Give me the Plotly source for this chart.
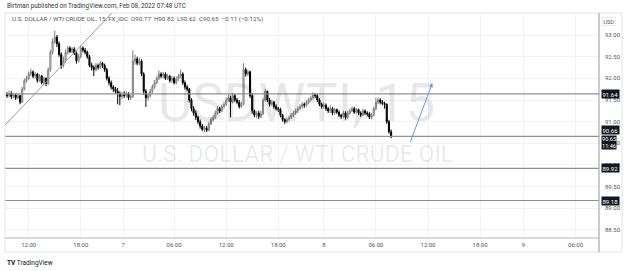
import plotly.graph_objects as go

# ---------------- data ----------------
closes = [91.60, 91.65, 91.58, 91.62, 91.55, 91.60, 91.45, 91.75, 91.95, 92.00,
          92.10, 92.15, 92.05, 92.10, 91.95, 92.05, 91.90, 92.00, 91.88, 92.20,
          92.60, 92.85, 92.95, 92.80, 92.55, 92.30, 92.40, 92.60, 92.70, 92.62,
          92.68, 92.58, 92.40, 92.50, 92.70, 92.65, 92.60, 92.50, 92.30, 92.25,
          92.20, 92.30, 92.25, 92.35, 92.30, 92.20, 92.00, 91.90, 91.80, 91.75,
          91.70, 91.65, 91.58, 91.62, 91.60, 91.65, 91.55, 91.58, 92.40, 92.45,
          92.35, 92.40, 92.10, 91.70, 91.55, 91.60, 91.70, 91.80, 91.90, 92.00,
          92.10, 92.05, 92.10, 92.00, 92.05, 91.95, 92.00, 91.90, 91.98, 92.05,
          92.10, 91.90, 91.80, 91.75, 91.50, 91.30, 91.20, 91.10, 91.00, 90.90,
          90.82, 90.85, 90.80, 90.95, 91.05, 91.10, 91.20, 91.30, 91.25, 91.35,
          91.40, 91.50, 91.55, 91.45, 91.60, 91.50, 91.45, 91.35, 91.40, 92.20,
          92.10, 92.15, 91.60, 91.25, 91.15, 91.20, 91.12, 91.18, 91.50, 91.70,
          91.50, 91.40, 91.45, 91.35, 91.30, 91.28, 91.15, 91.05, 91.00, 91.05,
          91.10, 91.15, 91.20, 91.25, 91.30, 91.35, 91.40, 91.38, 91.45, 91.50,
          91.55, 91.62, 91.60, 91.50, 91.40, 91.35, 91.38, 91.30, 91.25, 91.30,
          91.20, 91.28, 91.22, 91.15, 91.12, 91.20, 91.10, 91.20, 91.25, 91.30,
          91.22, 91.28, 91.20, 91.15, 91.25, 91.20, 91.18, 91.10, 91.15, 91.30,
          91.45, 91.50, 91.45, 91.42, 91.40, 91.00, 90.77, 90.65]

opens = [91.62, 91.60, 91.65, 91.58, 91.62, 91.55, 91.60, 91.45, 91.75, 91.95,
         92.00, 92.10, 92.15, 92.05, 92.10, 91.95, 92.05, 91.90, 92.00, 91.88,
         92.20, 92.60, 92.85, 92.95, 92.80, 92.55, 92.30, 92.40, 92.60, 92.70,
         92.62, 92.68, 92.58, 92.40, 92.50, 92.70, 92.65, 92.60, 92.50, 92.30,
         92.25, 92.20, 92.30, 92.25, 92.35, 92.30, 92.20, 92.00, 91.90, 91.80,
         91.75, 91.70, 91.65, 91.58, 91.62, 91.60, 91.65, 91.55, 91.58, 92.40,
         92.45, 92.35, 92.40, 92.10, 91.70, 91.55, 91.60, 91.70, 91.80, 91.90,
         92.00, 92.10, 92.05, 92.10, 92.00, 92.05, 91.95, 92.00, 91.90, 91.98,
         92.05, 92.10, 91.90, 91.80, 91.75, 91.50, 91.30, 91.20, 91.10, 91.00,
         90.90, 90.82, 90.85, 90.80, 90.95, 91.05, 91.10, 91.20, 91.30, 91.25,
         91.35, 91.40, 91.50, 91.55, 91.45, 91.60, 91.50, 91.45, 91.35, 91.40,
         92.20, 92.10, 92.15, 91.60, 91.25, 91.15, 91.20, 91.12, 91.18, 91.50,
         91.70, 91.50, 91.40, 91.45, 91.35, 91.30, 91.28, 91.15, 91.05, 91.00,
         91.05, 91.10, 91.15, 91.20, 91.25, 91.30, 91.35, 91.40, 91.38, 91.45,
         91.50, 91.55, 91.62, 91.60, 91.50, 91.40, 91.35, 91.38, 91.30, 91.25,
         91.30, 91.20, 91.28, 91.22, 91.15, 91.12, 91.20, 91.10, 91.20, 91.25,
         91.30, 91.22, 91.28, 91.20, 91.15, 91.25, 91.20, 91.18, 91.10, 91.15,
         91.30, 91.45, 91.50, 91.45, 91.42, 91.40, 91.00, 90.77]

highs = [91.68, 91.72, 91.70, 91.66, 91.65, 91.64, 91.62, 91.80, 92.00, 92.06,
         92.16, 92.22, 92.18, 92.14, 92.12, 92.10, 92.08, 92.04, 92.02, 92.25,
         92.66, 92.92, 93.10, 93.00, 92.85, 92.60, 92.50, 92.66, 92.75, 92.74,
         92.72, 92.72, 92.62, 92.56, 92.76, 92.74, 92.70, 92.64, 92.54, 92.36,
         92.30, 92.36, 92.34, 92.40, 92.38, 92.34, 92.24, 92.05, 91.95, 91.84,
         91.80, 91.78, 91.70, 91.68, 91.70, 91.70, 91.68, 91.62, 92.65, 92.55,
         92.50, 92.48, 92.44, 92.14, 91.75, 91.66, 91.76, 91.86, 91.96, 92.05,
         92.18, 92.14, 92.15, 92.14, 92.10, 92.08, 92.05, 92.04, 92.04, 92.10,
         92.20, 92.14, 91.95, 91.84, 91.78, 91.54, 91.36, 91.26, 91.14, 91.05,
         90.95, 90.90, 90.90, 91.00, 91.10, 91.16, 91.26, 91.36, 91.34, 91.40,
         91.46, 91.56, 91.62, 91.60, 91.66, 91.64, 91.55, 91.50, 91.46, 92.35,
         92.25, 92.20, 92.18, 91.64, 91.28, 91.24, 91.25, 91.25, 91.56, 91.76,
         91.72, 91.55, 91.50, 91.48, 91.40, 91.34, 91.32, 91.18, 91.08, 91.10,
         91.14, 91.20, 91.25, 91.30, 91.35, 91.40, 91.45, 91.44, 91.50, 91.55,
         91.60, 91.68, 91.66, 91.64, 91.54, 91.44, 91.44, 91.42, 91.34, 91.38,
         91.34, 91.32, 91.30, 91.26, 91.18, 91.25, 91.24, 91.25, 91.30, 91.35,
         91.34, 91.32, 91.30, 91.24, 91.30, 91.28, 91.24, 91.22, 91.20, 91.35,
         91.55, 91.56, 91.54, 91.50, 91.46, 91.42, 91.04, 90.82]

lows = [91.55, 91.56, 91.52, 91.54, 91.50, 91.52, 91.40, 91.43, 91.72, 91.90,
        91.96, 92.05, 92.00, 92.00, 91.90, 91.92, 91.86, 91.86, 91.82, 91.85,
        92.15, 92.55, 92.80, 92.72, 92.50, 92.22, 92.25, 92.36, 92.55, 92.58,
        92.58, 92.54, 92.34, 92.36, 92.46, 92.60, 92.55, 92.45, 92.26, 92.18,
        92.05, 92.16, 92.20, 92.22, 92.24, 92.15, 91.95, 91.84, 91.74, 91.68,
        91.64, 91.40, 91.38, 91.52, 91.55, 91.56, 91.50, 91.50, 91.55, 92.32,
        92.30, 92.30, 92.05, 91.62, 91.34, 91.48, 91.56, 91.66, 91.76, 91.86,
        91.96, 92.00, 92.00, 91.96, 91.96, 91.90, 91.90, 91.86, 91.86, 91.94,
        92.00, 91.85, 91.74, 91.70, 91.44, 91.24, 91.14, 91.04, 90.94, 90.84,
        90.78, 90.76, 90.76, 90.78, 90.92, 91.00, 91.06, 91.16, 91.20, 91.22,
        91.30, 91.36, 91.46, 91.10, 91.42, 91.45, 91.40, 91.30, 91.32, 91.38,
        92.04, 92.05, 91.55, 91.18, 91.10, 91.08, 91.06, 91.08, 91.15, 91.46,
        91.45, 91.35, 91.36, 91.30, 91.26, 91.22, 91.10, 91.00, 90.95, 90.96,
        91.00, 91.06, 91.10, 91.16, 91.20, 91.26, 91.30, 91.32, 91.34, 91.40,
        91.46, 91.50, 91.54, 91.45, 91.36, 91.30, 91.30, 91.25, 91.20, 91.20,
        91.15, 91.16, 91.18, 91.10, 91.06, 91.08, 91.05, 91.06, 91.16, 91.22,
        91.18, 91.18, 91.15, 91.10, 91.12, 91.15, 91.12, 91.06, 91.06, 91.12,
        91.26, 91.40, 91.40, 91.38, 91.30, 90.95, 90.72, 90.62]

bar_index = list(range(len(closes)))

tick_positions = [10, 34, 53.5, 77, 101, 125, 146, 170, 194, 218, 238, 262]
tick_labels = ["12:00", "18:00", "7", "06:00", "12:00", "18:00", "8", "06:00",
               "12:00", "18:00", "9", "06:00"]

price_ticks = [88.5, 89.0, 89.5, 90.0, 90.5, 91.0, 91.5, 92.0, 92.5, 93.0]

h_levels = [91.64, 90.66, 89.92, 89.18]
last_price = 90.65
countdown = "11:46"

trend_start = (-0.92, 90.92)
trend_end = (48.4, 93.51)
arrow_start = (185.7, 90.51)
arrow_end = (196.0, 91.89)

x_range = [-0.92, 272.8]
y_range = [88.315, 93.508]

# ---------------- figure ----------------
W, H = 625, 271
L_PX, R_PX, T_PX, B_PX = 5, 599, 13, 238


def px(xp):
    return (xp - L_PX) / (R_PX - L_PX)


def py(yp):
    return (B_PX - yp) / (B_PX - T_PX)


FONT = "Roboto"
fig = go.Figure()

fig.add_trace(go.Candlestick(
    x=bar_index, open=opens, high=highs, low=lows, close=closes,
    increasing=dict(line=dict(color="#7d7d7d", width=1), fillcolor="#ffffff"),
    decreasing=dict(line=dict(color="#000000", width=1), fillcolor="#000000"),
    whiskerwidth=0, hoverinfo="skip", showlegend=False,
))

shapes = []
# horizontal level lines
for lv in h_levels:
    shapes.append(dict(type="line", xref="paper", yref="y", x0=0, x1=1, y0=lv, y1=lv,
                       line=dict(color="#8f9196", width=1.2), layer="above"))
# trend line
shapes.append(dict(type="line", xref="x", yref="y",
                   x0=trend_start[0], y0=trend_start[1], x1=trend_end[0], y1=trend_end[1],
                   line=dict(color="#9a9a9a", width=1)))
# frame / axis lines
shapes.append(dict(type="line", xref="paper", yref="paper", x0=0, x1=px(622), y0=py(13), y1=py(13),
                   line=dict(color="#e0e3eb", width=1)))
shapes.append(dict(type="line", xref="paper", yref="paper", x0=0, x1=px(622), y0=py(252), y1=py(252),
                   line=dict(color="#e0e3eb", width=1)))
shapes.append(dict(type="line", xref="paper", yref="paper", x0=0, x1=0, y0=py(13), y1=py(252),
                   line=dict(color="#e0e3eb", width=1)))
shapes.append(dict(type="line", xref="paper", yref="paper", x0=px(622), x1=px(622), y0=py(13), y1=py(252),
                   line=dict(color="#e0e3eb", width=1)))
shapes.append(dict(type="line", xref="paper", yref="paper", x0=1, x1=1, y0=py(13), y1=py(252),
                   line=dict(color="#9598a1", width=1)))
shapes.append(dict(type="line", xref="paper", yref="paper", x0=0, x1=1, y0=0, y1=0,
                   line=dict(color="#b2b5be", width=1)))

annotations = []
# watermark
annotations.append(dict(xref="paper", yref="paper", x=px(296), y=py(103), text="USDWTI, 15",
                        showarrow=False, font=dict(family=FONT, size=53, color="rgba(0,0,0,0.09)"),
                        xanchor="center", yanchor="middle"))
annotations.append(dict(xref="paper", yref="paper", x=px(297), y=py(154), text="U.S. DOLLAR / WTI CRUDE OIL",
                        showarrow=False, font=dict(family=FONT, size=23, color="rgba(0,0,0,0.09)"),
                        xanchor="center", yanchor="middle"))
# headers
annotations.append(dict(xref="paper", yref="paper", x=px(5), y=py(6), text="Birtman published on TradingView.com, Feb 08, 2022 07:48 UTC",
                        showarrow=False, font=dict(family=FONT, size=6.3, color="#333333"),
                        xanchor="left", yanchor="middle"))
annotations.append(dict(xref="paper", yref="paper", x=px(10), y=py(19),
                        text="U.S. DOLLAR / WTI CRUDE OIL, 15, FX_IDC  O90.77  H90.82  L90.62  C90.65  \u22120.11 (\u22120.12%)",
                        showarrow=False, font=dict(family=FONT, size=6.2, color="#555555"),
                        xanchor="left", yanchor="middle"))
# arrow
annotations.append(dict(xref="x", yref="y", axref="x", ayref="y",
                        x=arrow_end[0], y=arrow_end[1], ax=arrow_start[0], ay=arrow_start[1],
                        text="", showarrow=True, arrowhead=2, arrowsize=0.8, arrowwidth=1,
                        arrowcolor="#6d8fe6"))
# price labels on axis
label_shift = {91.64: 0, 90.66: 6.5, 89.92: 0, 89.18: 0}
for lv in h_levels:
    annotations.append(dict(xref="paper", yref="y", x=px(601), y=lv, yshift=label_shift[lv],
                            text=f"{lv:.2f}", showarrow=False, xanchor="left", yanchor="middle",
                            bgcolor="#131722", borderpad=0.5,
                            font=dict(family=FONT, size=6, color="#ffffff")))
annotations.append(dict(xref="paper", yref="y", x=px(601), y=last_price, yshift=-6,
                        text=f"{last_price:.2f}<br>{countdown}", showarrow=False,
                        xanchor="left", yanchor="middle", bgcolor="#131722", borderpad=0,
                        font=dict(family=FONT, size=5.6, color="#ffffff")))
# currency tag
annotations.append(dict(xref="paper", yref="paper", x=px(609), y=py(21), text="USD",
                        showarrow=False, xanchor="center", yanchor="middle",
                        bordercolor="#d9d9d9", borderwidth=0.5, borderpad=1,
                        font=dict(family=FONT, size=5.5, color="#555555")))
# TradingView footer
annotations.append(dict(xref="paper", yref="paper", x=px(5), y=py(263),
                        text="<b>TV</b> TradingView", showarrow=False, xanchor="left", yanchor="middle",
                        font=dict(family=FONT, size=6.5, color="#131722")))

fig.update_layout(
    width=W, height=H,
    margin=dict(l=L_PX, r=W - R_PX, t=T_PX, b=H - B_PX, pad=0),
    paper_bgcolor="#ffffff", plot_bgcolor="#ffffff",
    shapes=shapes, annotations=annotations,
    showlegend=False,
    xaxis=dict(range=x_range, tickmode="array", tickvals=tick_positions, ticktext=tick_labels,
               showgrid=True, gridcolor="#f0f3fa", gridwidth=1, zeroline=False,
               showline=False, ticks="", rangeslider=dict(visible=False),
               tickfont=dict(family=FONT, size=6, color="#555555"), ticklabelstandoff=2,
               fixedrange=True),
    yaxis=dict(range=y_range, side="right", tickmode="array", tickvals=price_ticks,
               ticktext=[f"{v:.2f}" for v in price_ticks],
               showgrid=True, gridcolor="#f0f3fa", gridwidth=1, zeroline=False,
               showline=False, ticks="", ticklabelstandoff=5,
               tickfont=dict(family=FONT, size=6, color="#555555"), fixedrange=True),
)

fig.write_html("out.html")
